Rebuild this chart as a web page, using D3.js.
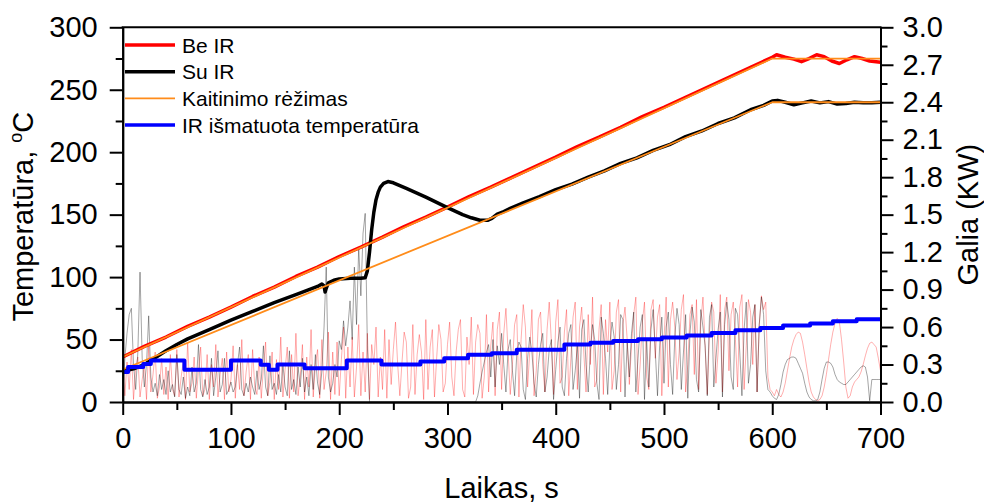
<!DOCTYPE html>
<html>
<head>
<meta charset="utf-8">
<script src="https://cdn.jsdelivr.net/npm/d3@7/dist/d3.min.js"></script>
<style>
    html, body { margin: 0; padding: 0; background: #fff; }
    svg { display: block; font-family: Arial, "Liberation Sans", sans-serif; }
</style>
</head>
<body>
<svg id="chart" width="984" height="503"></svg>
<script>
// sample step of the power traces, s
const timeStep = 2;

// Galia (kW), Be IR, every 2 s from 0 to 700
const powerBeIR = [
    0.35,0.05,0.32,0.10,0.42,0.02,0.28,0.36,0.04,0.18,0.30,0.02,0.45,0.08,0.22,0.40,0.03,0.12,0.35,0.06,0.28,0.02,0.38,0.10,0.05,
    0.42,0.04,0.20,0.33,0.02,0.48,0.08,0.15,0.36,0.03,0.26,0.44,0.05,0.10,0.38,0.02,0.30,0.12,0.46,0.04,0.22,0.35,0.02,0.40,0.08,
    0.18,0.45,0.03,0.30,0.10,0.50,0.05,0.24,0.38,0.02,0.42,0.12,0.06,0.36,0.03,0.28,0.48,0.05,0.16,0.40,0.02,0.34,0.10,0.52,0.04,
    0.26,0.44,0.03,0.38,0.08,0.55,0.05,0.20,0.46,0.02,0.36,0.12,0.58,0.04,0.30,0.42,0.03,0.50,0.10,0.24,0.56,0.02,0.40,0.06,0.48,
    0.05,0.34,0.60,0.03,0.44,0.12,0.52,0.04,0.28,0.62,0.05,0.40,0.08,0.55,0.02,0.46,0.30,0.60,0.04,0.36,0.10,0.58,0.03,0.50,0.14,
    0.42,0.64,0.30,0.05,0.32,0.56,0.48,0.03,0.12,0.62,0.06,0.38,0.54,0.40,0.02,0.66,0.10,0.44,0.58,0.04,0.35,0.62,0.50,0.08,0.15,
    0.46,0.64,0.20,0.05,0.40,0.58,0.66,0.10,0.04,0.52,0.30,0.68,0.06,0.48,0.62,0.55,0.03,0.20,0.70,0.08,0.45,0.64,0.05,0.58,0.72,
    0.10,0.55,0.75,0.40,0.06,0.30,0.62,0.70,0.04,0.50,0.78,0.60,0.12,0.40,0.74,0.05,0.25,0.66,0.72,0.30,0.08,0.58,0.80,0.48,0.06,
    0.64,0.82,0.15,0.20,0.56,0.74,0.05,0.35,0.68,0.80,0.10,0.60,0.76,0.38,0.08,0.70,0.30,0.84,0.12,0.18,0.58,0.78,0.06,0.66,0.40,
    0.80,0.10,0.25,0.72,0.82,0.08,0.62,0.76,0.50,0.14,0.45,0.70,0.84,0.06,0.30,0.64,0.80,0.20,0.10,0.74,0.82,0.35,0.68,0.78,0.05,
    0.50,0.84,0.12,0.66,0.80,0.60,0.18,0.40,0.74,0.86,0.08,0.30,0.70,0.78,0.22,0.82,0.10,0.64,0.84,0.45,0.06,0.55,0.80,0.72,0.15,
    0.40,0.86,0.08,0.74,0.84,0.25,0.70,0.80,0.50,0.12,0.76,0.86,0.10,0.45,0.82,0.72,0.30,0.78,0.08,0.62,0.85,0.74,0.80,0.20,0.10,
    0.08,0.05,0.10,0.06,0.04,0.08,0.15,0.25,0.35,0.44,0.50,0.54,0.56,0.55,0.48,0.38,0.27,0.16,0.08,0.04,0.02,0.01,0.02,0.05,0.12,
    0.22,0.34,0.46,0.56,0.63,0.67,0.64,0.50,0.32,0.12,0.03,0.05,0.12,0.16,0.18,0.20,0.24,0.30,0.37,0.43,0.47,0.48,0.46,0.44,0.35,
    0.25
];

// Galia (kW), Su IR, every 2 s from 0 to 700
const powerSuIR = [
    0.05,0.35,0.55,0.70,0.75,0.30,0.10,0.40,1.04,0.35,0.12,0.30,0.69,0.20,0.08,0.15,0.05,0.22,0.10,0.18,0.06,0.25,0.08,0.14,0.04,
    0.38,0.10,0.06,0.20,0.03,0.12,0.05,0.28,0.08,0.15,0.46,0.10,0.04,0.18,0.06,0.12,0.35,0.05,0.20,0.41,0.08,0.14,0.35,0.06,0.10,
    0.16,0.08,0.12,0.30,0.44,0.10,0.05,0.15,0.08,0.20,0.12,0.06,0.25,0.10,0.18,0.45,0.12,0.05,0.37,0.10,0.15,0.06,0.22,0.08,0.30,
    0.12,0.05,0.41,0.10,0.18,0.06,0.28,0.12,0.35,0.08,0.20,0.05,0.30,0.10,0.38,0.15,0.06,0.25,0.60,1.08,0.20,0.08,0.15,0.30,0.20,
    0.49,0.42,0.65,0.45,0.60,0.81,0.50,1.08,0.62,1.24,0.85,1.35,1.51,0.45,0.00,0,0,0,0,0,0,0,0,0,0,
    0,0,0,0,0,0,0,0,0,0,0,0,0,0,0,0,0,0,0,0,0,0,0,0,0,
    0,0,0,0,0,0,0,0,0,0,0,0,0,0.00,0.05,0.15,0.24,0.32,0.40,0.46,0.20,0.50,0.12,0.45,0.30,
    0.55,0.30,0.08,0.42,0.50,0.25,0.05,0.38,0.48,0.44,0.10,0.02,0.35,0.52,0.40,0.15,0.04,0.30,0.46,0.55,0.08,0.20,0.42,0.50,0.02,
    0.26,0.48,0.60,0.12,0.05,0.35,0.55,0.62,0.10,0.25,0.45,0.03,0.58,0.66,0.30,0.08,0.40,0.62,0.50,0.15,0.02,0.68,0.55,0.35,0.06,
    0.45,0.64,0.52,0.10,0.30,0.70,0.66,0.04,0.48,0.20,0.55,0.72,0.08,0.35,0.60,0.70,0.02,0.50,0.12,0.58,0.74,0.40,0.05,0.45,0.68,
    0.15,0.60,0.72,0.30,0.06,0.52,0.75,0.62,0.10,0.40,0.70,0.03,0.55,0.76,0.64,0.18,0.08,0.74,0.60,0.45,0.05,0.68,0.78,0.12,0.35,
    0.58,0.72,0.04,0.62,0.80,0.66,0.20,0.10,0.75,0.70,0.40,0.05,0.58,0.80,0.15,0.30,0.68,0.78,0.08,0.62,0.84,0.70,0.25,0.10,0.08,
    0.05,0.03,0.02,0.06,0.14,0.24,0.30,0.34,0.35,0.36,0.36,0.35,0.31,0.27,0.23,0.15,0.08,0.04,0.02,0.01,0.01,0.02,0.08,0.18,0.27,
    0.32,0.32,0.31,0.28,0.22,0.18,0.16,0.15,0.14,0.14,0.16,0.18,0.20,0.22,0.24,0.26,0.28,0.29,0.28,0.20,0.01,0.18,0.18,0.18,0.18,
    0.18
];

// Temperatūra (°C) as [t, value]
const tempBeIR = [
    [0,36],[20,44.5],[40,52],[60,60.5],[80,68],[100,76],[120,84.5],[140,92],[160,100.5],[180,108],
    [200,116.5],[220,124],[240,132],[260,140.5],[280,148],[300,156],[320,164.5],[340,172],[360,180],
    [380,188],[400,196],[420,204.5],[440,212],[460,220],[480,228.5],[500,236],[520,244],[540,252],
    [560,260],[580,268],[600,276],[604,278],[612,276],[620,274.5],[627,272.5],[634,275],[641,278],
    [648,276.5],[655,273],[662,271],[669,274],[676,276.5],[683,275],[690,273],[700,272]
];
const tempSuIR = [
    [0,24.5],[10,26.5],[20,30],[30,35.5],[40,41],[50,46],[60,50.5],[80,58],[100,65.5],[120,72.5],
    [140,79.5],[160,86],[180,92.5],[184,94.5],[186,93],[187,88],[188,91],[190,95.5],[195,97.5],[200,98.5],
    [210,99],[220,99],[224,99.5],[226,105],[228,120],[230,138],[232,152],[234,162],[236,168],[238,172],
    [241,175],[245,176.5],[250,175.5],[262,171],[280,164],[299,156],[314,150],[322,147.5],[330,145.5],
    [337,145.5],[341,147],[346,150.5],[352,152.5],[358,155],[370,159.5],[385,164.5],[400,170],[415,174.5],
    [430,180],[445,185],[460,191],[475,195.5],[490,201.5],[505,206],[520,212.5],[535,217],[550,223],
    [565,227.5],[580,234],[592,237.5],[600,241],[605,241.5],[612,240],[620,238],[628,239.5],[636,241],
    [644,239.5],[652,240.5],[660,238.5],[668,239],[676,240],[684,239.5],[692,239.5],[700,240]
];
const regimeUpper = [[0,36],[600,275],[700,275]];
const regimeLower = [[0,26],[600,240],[700,240]];
// IR išmatuota temperatūra, stepped: [t start, value]
const irMeasured = [
    [0,24],[5,28],[19,30.5],[26,33.3],[57,25.8],[100,33.3],[127.5,29.8],[135,25.8],[143,30],[168,27.1],
    [207,33.3],[239,30],[275,32.5],[297,35],[319,37.8],[341,39.1],[364,41.8],[408,46],[432,47.5],
    [453,48.8],[476,50.3],[498,51.7],[521,53.3],[544,55.2],[566,57.5],[589,59.2],[610,61.3],[635,62.8],
    [656,64.6],[678,66.2],[700,66.2]
];

const xTicks = [0, 100, 200, 300, 400, 500, 600, 700];
const xMinorTicks = [50, 150, 250, 350, 450, 550, 650];
const yTicks = [0, 50, 100, 150, 200, 250, 300];
const yMinorTicks = [25, 75, 125, 175, 225, 275];
const powerTicks = [0, 0.3, 0.6, 0.9, 1.2, 1.5, 1.8, 2.1, 2.4, 2.7, 3.0];
const powerMinorTicks = [0.15, 0.45, 0.75, 1.05, 1.35, 1.65, 1.95, 2.25, 2.55, 2.85];

const legendItems = [
    { label: 'Be IR', color: '#ff0000', width: 3.5 },
    { label: 'Su IR', color: '#000000', width: 3.5 },
    { label: 'Kaitinimo rėžimas', color: '#ff8c1a', width: 1.8 },
    { label: 'IR išmatuota temperatūra', color: '#0000ff', width: 3.5 }
];

const plot = { left: 122.7, right: 880.5, top: 27.3, bottom: 402 };
const svg = d3.select('#chart');

const x = d3.scaleLinear().domain([0, 700]).range([plot.left, plot.right]);
const y = d3.scaleLinear().domain([0, 300]).range([plot.bottom, plot.top]);
const yPower = d3.scaleLinear().domain([0, 3]).range([plot.bottom, plot.top]);

svg.append('defs').append('clipPath').attr('id', 'plotClip')
    .append('rect')
    .attr('x', plot.left).attr('y', plot.top - 2)
    .attr('width', plot.right - plot.left).attr('height', plot.bottom - plot.top + 2);

const dataLayer = svg.append('g').attr('clip-path', 'url(#plotClip)');

function drawLine(points, scaleY, color, width, opacity, curve) {
    const line = d3.line()
        .x(d => x(d[0]))
        .y(d => scaleY(d[1]))
        .curve(curve || d3.curveLinear);
    dataLayer.append('path')
        .datum(points)
        .attr('d', line)
        .attr('fill', 'none')
        .attr('stroke', color)
        .attr('stroke-width', width)
        .attr('stroke-opacity', opacity)
        .attr('stroke-linejoin', 'round');
}

const toPairs = values => values.map((v, i) => [i * timeStep, v]);

// power traces (thin) under the temperatures
drawLine(toPairs(powerBeIR), yPower, '#ff0000', 0.8, 0.4);
drawLine(toPairs(powerSuIR), yPower, '#000000', 0.8, 0.45);

drawLine(tempBeIR, y, '#ff0000', 3.5, 1);
drawLine(tempSuIR, y, '#000000', 3.5, 1);
drawLine(regimeUpper, y, '#ff8c1a', 1.8, 1);
drawLine(regimeLower, y, '#ff8c1a', 1.8, 1);
drawLine(irMeasured, y, '#0000ff', 4, 1, d3.curveStepAfter);

// axes
function styleAxis(g, fontSize) {
    g.selectAll('path.domain').attr('stroke-width', 2);
    g.selectAll('.tick line').attr('stroke-width', 2);
    g.selectAll('.tick text')
        .attr('font-size', fontSize)
        .attr('font-family', 'Arial, "Liberation Sans", sans-serif')
        .attr('fill', '#000');
}

const tickFont = 29;

svg.append('g')
    .attr('transform', `translate(${plot.left},0)`)
    .call(d3.axisLeft(y).tickValues(yMinorTicks).tickSize(7).tickSizeOuter(0).tickFormat(''))
    .call(g => styleAxis(g, tickFont));
svg.append('g')
    .attr('transform', `translate(${plot.left},0)`)
    .call(d3.axisLeft(y).tickValues(yTicks).tickSize(13).tickSizeOuter(0).tickPadding(12))
    .call(g => styleAxis(g, tickFont));

svg.append('g')
    .attr('transform', `translate(${plot.right},0)`)
    .call(d3.axisRight(yPower).tickValues(powerMinorTicks).tickSize(7).tickSizeOuter(0).tickFormat(''))
    .call(g => styleAxis(g, tickFont));
svg.append('g')
    .attr('transform', `translate(${plot.right},0)`)
    .call(d3.axisRight(yPower).tickValues(powerTicks).tickSize(13).tickSizeOuter(0).tickPadding(9)
        .tickFormat(d3.format('.1f')))
    .call(g => styleAxis(g, tickFont));

svg.append('g')
    .attr('transform', `translate(0,${plot.bottom})`)
    .call(d3.axisBottom(x).tickValues(xMinorTicks).tickSize(8).tickSizeOuter(0).tickFormat(''))
    .call(g => styleAxis(g, tickFont));
svg.append('g')
    .attr('transform', `translate(0,${plot.bottom})`)
    .call(d3.axisBottom(x).tickValues(xTicks).tickSize(13).tickSizeOuter(0).tickPadding(12))
    .call(g => styleAxis(g, tickFont));

// top frame
svg.append('line')
    .attr('x1', plot.left - 1).attr('x2', plot.right + 1)
    .attr('y1', plot.top).attr('y2', plot.top)
    .attr('stroke', '#000').attr('stroke-width', 2);

// axis titles
const leftTitle = svg.append('text')
    .attr('transform', `translate(33,${(plot.top + plot.bottom) / 2 + 2}) rotate(-90)`)
    .attr('text-anchor', 'middle')
    .attr('font-size', 29);
leftTitle.append('tspan').text('Temperatūra, ');
leftTitle.append('tspan').attr('font-size', 18).attr('dy', -11).text('o');
leftTitle.append('tspan').attr('dy', 11).text('C');

svg.append('text')
    .attr('x', (plot.left + plot.right) / 2)
    .attr('y', 498)
    .attr('text-anchor', 'middle')
    .attr('font-size', 29)
    .text('Laikas, s');

svg.append('text')
    .attr('transform', `translate(978,${(plot.top + plot.bottom) / 2}) rotate(-90)`)
    .attr('text-anchor', 'middle')
    .attr('font-size', 29)
    .text('Galia (KW)');

// legend
const legend = svg.append('g').attr('transform', 'translate(125,45)');
legendItems.forEach((item, i) => {
    const row = legend.append('g').attr('transform', `translate(0,${i * 26.7})`);
    row.append('line')
        .attr('x1', 0).attr('x2', 50)
        .attr('stroke', item.color)
        .attr('stroke-width', item.width);
    row.append('text')
        .attr('x', 57)
        .attr('dy', '0.36em')
        .attr('font-size', 21)
        .text(item.label);
});
</script>
</body>
</html>
